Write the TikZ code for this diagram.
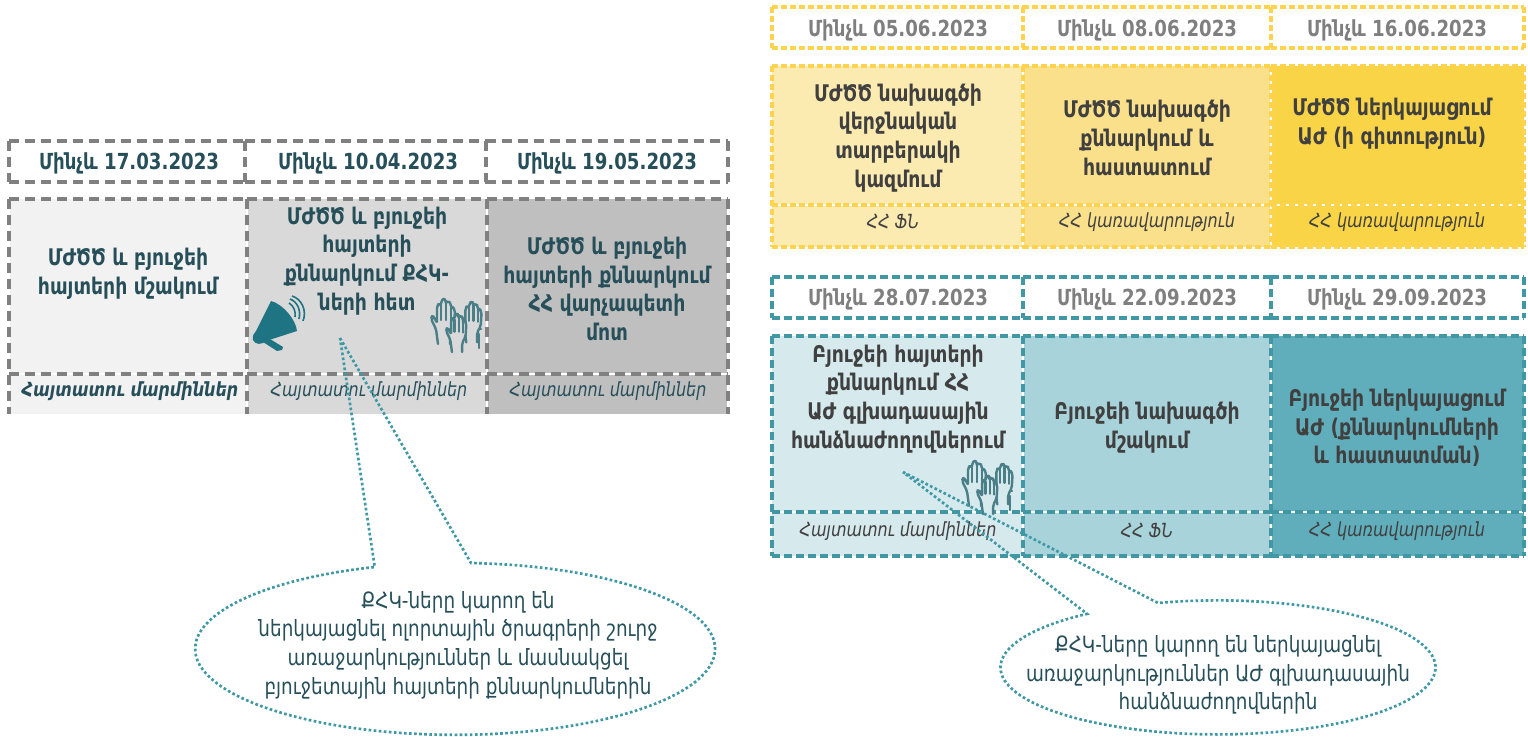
\documentclass[tikz,border=0pt]{standalone}
\usepackage{fontspec}
\setmainfont[FakeStretch=0.82]{DejaVu Sans}
\definecolor{grayD}{HTML}{808080}
\definecolor{grayA}{HTML}{F2F2F2}
\definecolor{grayB}{HTML}{D9D9D9}
\definecolor{grayC}{HTML}{BFBFBF}
\definecolor{yelD}{HTML}{FFD34D}
\definecolor{yelA}{HTML}{FCEBB0}
\definecolor{yelB}{HTML}{FAE08A}
\definecolor{yelC}{HTML}{F9D447}
\definecolor{tealD}{HTML}{4297A5}
\definecolor{tealA}{HTML}{D6E9ED}
\definecolor{tealB}{HTML}{A9D3DA}
\definecolor{tealC}{HTML}{60AEBC}
\definecolor{inkL}{HTML}{264F5A}
\definecolor{inkR}{HTML}{404040}
\definecolor{inkG}{HTML}{7F7F7F}
\definecolor{dotC}{HTML}{3F98A5}
\definecolor{megaC}{HTML}{1F7483}
\definecolor{handC}{HTML}{4A7F88}
\tikzset{
  x=0.75pt,y=-0.75pt,
  dashgray/.style={draw=grayD,line width=3.4pt,dash pattern=on 7.5pt off 4.5pt},
  dashyel/.style={draw=yelD,line width=2.6pt,dash pattern=on 4.5pt off 2.2pt},
  dashteal/.style={draw=tealD,line width=2.8pt,dash pattern=on 6pt off 3pt},
  gapline/.style={draw=white,line width=2.2pt},
  datebold/.style={font=\fontsize{16.6}{18}\selectfont\bfseries,align=center},
  mainbold/.style={font=\fontsize{17.2}{21.5}\selectfont\bfseries,align=center},
  subit/.style={font=\fontsize{14.6}{15}\selectfont\itshape,align=center},
  balloon/.style={font=\fontsize{16.8}{21.5}\selectfont,align=center,text=inkL},
  dotline/.style={draw=dotC,line width=2pt,dash pattern=on 2pt off 1.8pt},
  handline/.style={draw=handC,line width=1.8pt,line join=round,line cap=round},
  pics/hand/.style={code={
    \draw[handline,fill=#1,rounded corners=1.6pt]
      (7,46)--(5,31)--(0,21)--(1,18)--(3,19)--(6,25)--(6,8)--(8,5)--(10,8)--(10,3)--(13,0)--(15,3)--(15,5)--(18,3)--(20,6)--(20,10)--(22,9)--(24,12)--(23,28)--(19,35)--(19,46);
    \draw[handline] (10,8)--(10,22) (15,5)--(15,22) (20,10)--(20,23);
  }},
}
\newcommand\handset[3]{%
  \begin{scope}[shift={(#1,#2)}]
    \pic at (0,0) {hand=#3};
    \pic at (29,3) [scale=0.9] {hand=#3};
    \pic at (15,15) [scale=0.85] {hand=#3};
    \draw[handline] (48,36)--(48,50) (48,31)--(50,31);
  \end{scope}}
\begin{document}
\begin{tikzpicture}
\useasboundingbox (0,0) rectangle (1528,737);
% ---- left group
\fill[grayA] (10,199) rectangle (247,414);
\fill[grayB] (247,199) rectangle (487,414);
\fill[grayC] (487,199) rectangle (727,414);
\draw[gapline] (247,199)--(247,414) (487,199)--(487,414);
\foreach \a/\b in {9/245,245/486,486/728}{
  \draw[dashgray] (\a,141)--(\b,141);
  \draw[dashgray] (\a,182)--(\b,182);
}
\foreach \xx in {9,245,486,728}{
  \draw[dashgray] (\xx,141)--(\xx,182);
}
\foreach \xx in {9,247,487,728}{
  \draw[dashgray] (\xx,199)--(\xx,414);
}
\foreach \a/\b in {9/247,247/487,487/728}{
  \draw[dashgray] (\a,199)--(\b,199);
  \draw[gapline] (\a,374)--(\b,374);
  \draw[dashgray] (\a,374)--(\b,374);
}
% ---- yellow group
\fill[yelA] (772,66) rectangle (1023,247);
\fill[yelB] (1023,66) rectangle (1271,247);
\fill[yelC] (1271,66) rectangle (1524,247);
\draw[gapline] (1023,66)--(1023,247) (1271,66)--(1271,247) (772,205)--(1524,205);
\foreach \a/\b in {772/1023,1023/1271,1271/1524}{
  \draw[dashyel] (\a,7)--(\b,7);
  \draw[dashyel] (\a,48)--(\b,48);
  \draw[dashyel] (\a,66)--(\b,66);
  \draw[dashyel] (\a,205)--(\b,205);
  \draw[dashyel] (\a,247)--(\b,247);
}
\foreach \xx in {772,1023,1271,1524}{
  \draw[dashyel] (\xx,7)--(\xx,48);
  \draw[dashyel] (\xx,66)--(\xx,247);
}
% ---- teal group
\fill[tealA] (772,336) rectangle (1023,556);
\fill[tealB] (1023,336) rectangle (1271,556);
\fill[tealC] (1271,336) rectangle (1524,556);
\draw[gapline] (1023,336)--(1023,556) (1271,336)--(1271,556) (772,512)--(1524,512);
\foreach \a/\b in {772/1023,1023/1271,1271/1524}{
  \draw[dashteal] (\a,277)--(\b,277);
  \draw[dashteal] (\a,318)--(\b,318);
  \draw[dashteal] (\a,336)--(\b,336);
  \draw[dashteal] (\a,512)--(\b,512);
  \draw[dashteal] (\a,556)--(\b,556);
}
\foreach \xx in {772,1023,1271,1524}{
  \draw[dashteal] (\xx,277)--(\xx,318);
  \draw[dashteal] (\xx,336)--(\xx,556);
}
% ---- icons
\fill[megaC] (271,301) .. controls (283,304) and (296,320) .. (297,331)
   -- (266,341) .. controls (262,345) and (255,345) .. (253,340)
   .. controls (252,336) and (254,333) .. (256,331) -- cycle;
\fill[megaC] (263,342) -- (270,339) -- (283,347) -- (282,350) -- (277,351) -- cycle;
\draw[draw=megaC,line width=1.2pt]
  (289,303) .. controls (294,306) and (296,312) .. (295,317)
  (290,299) .. controls (298,302) and (301,311) .. (299,319)
  (292,296) .. controls (302,299) and (307,311) .. (303,321);
\handset{431}{298}{grayB}
\handset{962}{460}{tealA}
% ---- left text
\node[datebold,text=inkL] (la) at (129,163.5) {Մինչև 17.03.2023};
\node[datebold,text=inkL] (lb) at (368,163.5) {Մինչև 10.04.2023};
\node[datebold,text=inkL] (lc) at (607,163.5) {Մինչև 19.05.2023};
\node[mainbold,text=inkL] (ld) at (128,274) {ՄԺԾԾ և բյուջեի\\հայտերի մշակում};
\node[mainbold,text=inkL] (le) at (367,261) {ՄԺԾԾ և բյուջեի\\հայտերի\\քննարկում ՔՀԿ-\\ների հետ};
\node[mainbold,text=inkL] (lf) at (607,289) {ՄԺԾԾ և բյուջեի\\հայտերի քննարկում\\ՀՀ վարչապետի\\մոտ};
\node[subit,text=inkL,font=\fontsize{14.6}{15}\selectfont\bfseries\itshape] (lg) at (130,391) {Հայտատու մարմիններ};
\node[subit,text=inkL] (lh) at (369,391) {Հայտատու մարմիններ};
\node[subit,text=inkL] (li) at (608,391) {Հայտատու մարմիններ};
% ---- yellow text
\node[datebold,text=inkG] (ya) at (898,30.5) {Մինչև 05.06.2023};
\node[datebold,text=inkG] (yb) at (1147,30.5) {Մինչև 08.06.2023};
\node[datebold,text=inkG] (yc) at (1397,30.5) {Մինչև 16.06.2023};
\node[mainbold,text=inkR] (yd) at (898,138) {ՄԺԾԾ նախագծի\\վերջնական\\տարբերակի\\կազմում};
\node[mainbold,text=inkR] (ye) at (1147,138) {ՄԺԾԾ նախագծի\\քննարկում և\\հաստատում};
\node[mainbold,text=inkR] (yf) at (1392,124) {ՄԺԾԾ ներկայացում\\ԱԺ (ի գիտություն)};
\node[subit,text=inkR] (yg) at (893,222) {ՀՀ ՖՆ};
\node[subit,text=inkR] (yh) at (1147,222) {ՀՀ կառավարություն};
\node[subit,text=inkR] (yi) at (1397,222) {ՀՀ կառավարություն};
% ---- teal text
\node[datebold,text=inkG] (ta) at (898,299.5) {Մինչև 28.07.2023};
\node[datebold,text=inkG] (tb) at (1147,299.5) {Մինչև 22.09.2023};
\node[datebold,text=inkG] (tc) at (1397,299.5) {Մինչև 29.09.2023};
\node[mainbold,text=inkR] (td) at (898,399) {Բյուջեի հայտերի\\քննարկում ՀՀ\\ԱԺ գլխադասային\\հանձնաժողովներում};
\node[mainbold,text=inkR] (te) at (1147,428) {Բյուջեի նախագծի\\մշակում};
\node[mainbold,text=inkR] (tf) at (1397,428) {Բյուջեի ներկայացում\\ԱԺ (քննարկումների\\և հաստատման)};
\node[subit,text=inkR] (tg) at (898,531) {Հայտատու մարմիններ};
\node[subit,text=inkR] (th) at (1147,531) {ՀՀ ՖՆ};
\node[subit,text=inkR] (ti) at (1397,531) {ՀՀ կառավարություն};
% ---- callouts
\begin{scope}[y=0.75pt]
  \coordinate (tipL) at (340,-338);
  \coordinate (tipR) at (903,-472);
  \draw[dotline,line join=miter] (tipL) -- (471,-563)
     arc[start angle=86.5,end angle=-252,x radius=260,y radius=86] -- cycle;
  \draw[dotline,line join=miter] (tipR) -- (1158,-603)
     arc[start angle=106,end angle=-233,x radius=217.5,y radius=67] -- cycle;
\end{scope}
\node[balloon] (ca) at (458,645) {ՔՀԿ-ները կարող են\\ներկայացնել ոլորտային ծրագրերի շուրջ\\առաջարկություններ և մասնակցել\\բյուջետային հայտերի քննարկումներին};
\node[balloon] (cb) at (1218,675) {ՔՀԿ-ները կարող են ներկայացնել\\առաջարկություններ ԱԺ գլխադասային\\հանձնաժողովներին};
\end{tikzpicture}
\end{document}
